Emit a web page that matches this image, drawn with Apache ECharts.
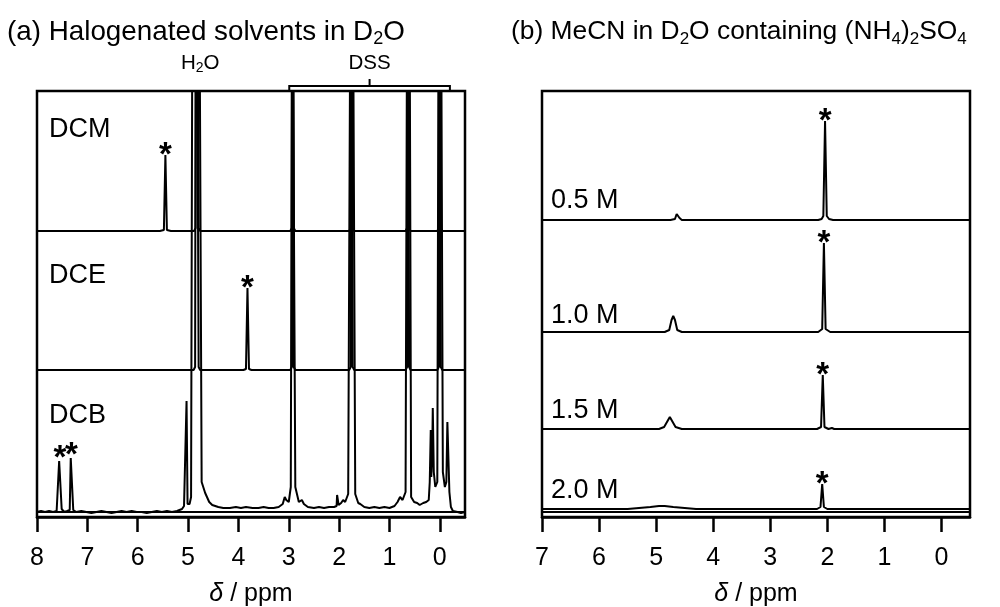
<!DOCTYPE html>
<html>
<head>
<meta charset="utf-8">
<script src="https://cdn.jsdelivr.net/npm/echarts@6/dist/echarts.min.js"></script>
<style>
html, body { margin: 0; padding: 0; background: #fff; }
#main { width: 1000px; height: 607px; }
</style>
</head>
<body>
<div id="main"></div>
<script>
// tick labels (ppm)
const ticksA = [8, 7, 6, 5, 4, 3, 2, 1, 0];
const ticksB = [7, 6, 5, 4, 3, 2, 1, 0];

// panel (a): halogenated solvents, [ppm, intensity above own baseline]
const namesA = ['DCM', 'DCE', 'DCB'];
const offsetsA = [286, 147, 5];
const dcm = [
  [8.00, 0], [5.56, 0], [5.48, 1], [5.45, 76], [5.42, 1], [5.34, 0],
  [4.88, 0], [4.85, 3], [4.83, 600], [4.81, 600], [4.79, 3], [4.76, 0],
  [2.97, 0], [2.94, 3], [2.93, 600], [2.91, 600], [2.90, 3], [2.87, 0],
  [1.80, 0], [1.77, 3], [1.76, 600], [1.74, 600], [1.73, 3], [1.70, 0],
  [0.68, 0], [0.65, 3], [0.64, 600], [0.62, 600], [0.61, 3], [0.58, 0],
  [0.05, 0], [0.02, 3], [0.01, 600], [-0.01, 600], [-0.02, 3], [-0.05, 0],
  [-0.50, 0]
];
const dce = [
  [8.00, 0], [4.89, 0], [4.86, 3], [4.84, 600], [4.82, 600], [4.79, 3], [4.76, 0],
  [3.90, 0], [3.85, 1], [3.82, 82], [3.79, 1], [3.74, 0],
  [2.97, 0], [2.94, 3], [2.93, 600], [2.91, 600], [2.90, 3], [2.87, 0],
  [1.80, 0], [1.77, 3], [1.76, 600], [1.74, 600], [1.73, 3], [1.70, 0],
  [0.68, 0], [0.65, 3], [0.64, 600], [0.62, 600], [0.61, 3], [0.58, 0],
  [0.05, 0], [0.02, 3], [0.01, 600], [-0.01, 600], [-0.02, 3], [-0.05, 0],
  [-0.50, 0]
];
const dcb = [
  [8.00, 0], [7.92, 1], [7.84, 0], [7.76, 1], [7.68, 0], [7.61, 1], [7.58, 3], [7.56, 51], [7.53, 51], [7.51, 3],
  [7.46, 0], [7.40, 1], [7.35, 2], [7.33, 54], [7.30, 54], [7.28, 2], [7.22, 0], [7.12, 1], [7.02, 0],
  [6.92, -1], [6.82, 0], [6.72, 1], [6.62, 0], [6.52, -1], [6.42, 0], [6.32, 1], [6.22, 0], [6.12, 1],
  [6.02, 0], [5.92, 0], [5.82, -1], [5.72, 0], [5.62, 1], [5.52, 0], [5.42, 1], [5.32, 0], [5.22, 1],
  [5.12, 3], [5.08, 6], [5.05, 8], [5.03, 111], [5.01, 8], [4.97, 8], [4.94, 15], [4.91, 600],
  [4.78, 600], [4.73, 30], [4.66, 19], [4.58, 10], [4.52, 7], [4.40, 5], [4.30, 4], [4.17, 4],
  [4.05, 5], [3.95, 4], [3.85, 5], [3.72, 4], [3.60, 4], [3.50, 5], [3.40, 4], [3.30, 4], [3.20, 5],
  [3.12, 8], [3.08, 15], [3.05, 12], [3.00, 10], [2.96, 25], [2.93, 600], [2.90, 600], [2.87, 25],
  [2.80, 10], [2.74, 12], [2.70, 8], [2.62, 5], [2.50, 4], [2.40, 5], [2.30, 4], [2.20, 5], [2.10, 5],
  [2.05, 6], [2.04, 17], [2.02, 17], [2.01, 7], [1.96, 9], [1.92, 12], [1.88, 10], [1.82, 18],
  [1.77, 600], [1.73, 600], [1.68, 18], [1.62, 9], [1.58, 8], [1.50, 5], [1.40, 4], [1.30, 5],
  [1.20, 4], [1.10, 5], [1.00, 4], [0.90, 6], [0.84, 10], [0.79, 15], [0.74, 12], [0.68, 20],
  [0.645, 600], [0.605, 600], [0.57, 15], [0.51, 10], [0.45, 9], [0.40, 7], [0.33, 9], [0.27, 10],
  [0.22, 12], [0.20, 30], [0.18, 82], [0.17, 35], [0.15, 60], [0.14, 104], [0.12, 40], [0.09, 25],
  [0.05, 30], [0.02, 600], [-0.02, 600], [-0.06, 40], [-0.10, 25], [-0.13, 30], [-0.15, 90],
  [-0.17, 90], [-0.19, 20], [-0.22, 5], [-0.26, 1], [-0.35, 0], [-0.42, -1], [-0.50, 0]
];
// starred solvent peaks: ppm, height above baseline, trace index
const starPpmA = [5.45, 3.82, 7.545, 7.315];
const starTopA = [76, 82, 54, 57];
const starTraceA = [0, 1, 2, 2];
const dssBracket = [2.99, -0.2];
const h2oPpm = 4.76;

// panel (b): MeCN in D2O with (NH4)2SO4
const namesB = ['0.5 M', '1.0 M', '1.5 M', '2.0 M'];
const offsetsB = [297, 185, 88, 8];
const m05 = [
  [7.00, 0], [4.75, 0], [4.67, 1], [4.64, 6], [4.62, 7], [4.59, 2], [4.55, 0],
  [2.86, 0], [2.83, 1], [2.80, 0], [2.16, 0], [2.10, 1], [2.07, 4], [2.04, 99], [2.01, 4],
  [1.97, 1], [1.90, 0], [1.76, 0], [1.73, 1], [1.70, 0], [0.62, 0], [0.59, 1], [0.56, 0],
  [0.03, 0], [0.01, 2], [-0.01, 0], [-0.50, 0]
];
const m10 = [
  [7.00, 0], [4.85, 0], [4.77, 2], [4.73, 12], [4.70, 16], [4.67, 12], [4.63, 2], [4.55, 0],
  [2.16, 0], [2.09, 3], [2.06, 89], [2.03, 3], [1.95, 0],
  [0.03, 0], [0.01, 2], [-0.01, 0], [-0.50, 0]
];
const m15 = [
  [7.00, 0], [4.95, 0], [4.86, 2], [4.80, 8], [4.76, 12], [4.72, 8], [4.66, 2], [4.55, 0],
  [2.18, 0], [2.11, 2], [2.08, 54], [2.05, 2], [1.98, 0], [1.92, 1], [1.88, 0],
  [0.03, 0], [0.01, 2], [-0.01, 0], [-0.50, 0]
];
const m20 = [
  [7.00, 0], [5.50, 0], [5.30, 1], [5.10, 2], [4.95, 3], [4.85, 3], [4.70, 2], [4.50, 1],
  [4.30, 0], [2.18, 0], [2.12, 2], [2.09, 25], [2.06, 2], [2.00, 0],
  [0.03, 0], [0.01, 1], [-0.01, 0], [-0.50, 0]
];
const starPpmB = [2.04, 2.06, 2.08, 2.09];
const starTopB = [99, 89, 54, 25];

const FONT = '"Liberation Sans", Arial, Helvetica, sans-serif';
const chart = echarts.init(document.getElementById('main'));

function traceSeries(points, offset, idx) {
  return {
    type: 'line', xAxisIndex: idx, yAxisIndex: idx,
    data: points.map(p => [p[0], p[1] + offset]),
    showSymbol: false, symbol: 'none', clip: true, silent: true,
    lineStyle: { color: '#000', width: 2 },
    animation: false, z: 3
  };
}

function frameLine(idx) {
  return {
    type: 'line', xAxisIndex: idx, yAxisIndex: idx, data: [], silent: true, animation: false,
    markLine: { silent: true, symbol: 'none', label: { show: false }, animation: false,
      lineStyle: { color: '#000', width: 2, type: 'solid' }, data: [{ yAxis: 5 }] }
  };
}

function xAxisFor(idx, min, max, ticks) {
  return {
    gridIndex: idx, type: 'value', inverse: true, min: min, max: max,
    axisLine: { show: true, onZero: false, lineStyle: { color: '#000', width: 2.5 } },
    axisTick: { show: true, inside: false, length: 15, customValues: ticks, lineStyle: { color: '#000', width: 2.5 } },
    axisLabel: { show: true, customValues: ticks, color: '#000', fontSize: 25, fontFamily: FONT, margin: 29 },
    splitLine: { show: false },
    name: '{i|δ} / ppm', nameLocation: 'middle', nameGap: 65,
    nameTextStyle: { color: '#000', fontSize: 25, fontFamily: FONT,
      rich: { i: { fontStyle: 'italic', fontSize: 25, fontFamily: FONT, color: '#000' } } }
  };
}

const series = [frameLine(0), frameLine(1)];
[dcm, dce, dcb].forEach((t, i) => series.push(traceSeries(t, offsetsA[i], 0)));
[m05, m10, m15, m20].forEach((t, i) => series.push(traceSeries(t, offsetsB[i], 1)));

chart.setOption({
  animation: false,
  backgroundColor: '#fff',
  grid: [
    { left: 37, right: 535, top: 91, bottom: 90, show: true, borderColor: '#000', borderWidth: 2.5, outerBoundsMode: 'none' },
    { left: 542, right: 30, top: 91, bottom: 90, show: true, borderColor: '#000', borderWidth: 2.5, outerBoundsMode: 'none' }
  ],
  xAxis: [xAxisFor(0, -0.5, 8, ticksA), xAxisFor(1, -0.5, 7, ticksB)],
  yAxis: [
    { gridIndex: 0, type: 'value', min: 0, max: 426, show: false },
    { gridIndex: 1, type: 'value', min: 0, max: 426, show: false }
  ],
  series: series
});

// annotations
function richTitle(size) {
  return {
    n: { fontSize: size, lineHeight: 32, fontFamily: FONT, color: '#000' },
    s: { fontSize: Math.round(size * 0.66), lineHeight: 16, verticalAlign: 'bottom', fontFamily: FONT, color: '#000' }
  };
}
const richSmall = {
  n: { fontSize: 20.5, lineHeight: 24, fontFamily: FONT, color: '#000' },
  s: { fontSize: 14, lineHeight: 13, verticalAlign: 'bottom', fontFamily: FONT, color: '#000' }
};
const px = v => chart.convertToPixel({ xAxisIndex: 0 }, v);
const bx0 = px(dssBracket[0]), bx1 = px(dssBracket[1]), bxm = (bx0 + bx1) / 2;

const labelYA = [130, 276, 416];
const labelYB = [201, 316, 411, 491];
const graphics = [
  { type: 'text', x: 7, y: 16, style: { text: '{n|(a) Halogenated solvents in D}{s|2}{n|O}', rich: richTitle(27.8), verticalAlign: 'top', fill: '#000' } },
  { type: 'text', x: 511, y: 16, style: { text: '{n|(b) MeCN in D}{s|2}{n|O containing (NH}{s|4}{n|)}{s|2}{n|SO}{s|4}', rich: richTitle(26.4), verticalAlign: 'top', fill: '#000' } },
  { type: 'text', x: px(h2oPpm), y: 51, style: { text: '{n|H}{s|2}{n|O}', rich: richSmall, align: 'center', verticalAlign: 'top', fill: '#000' } },
  { type: 'text', x: bxm, y: 51, style: { text: '{n|DSS}', rich: richSmall, align: 'center', verticalAlign: 'top', fill: '#000' } },
  { type: 'polyline', shape: { points: [[bx0, 91], [bx0, 86], [bx1, 86], [bx1, 91]] }, style: { stroke: '#000', lineWidth: 2, fill: null } },
  { type: 'line', shape: { x1: bxm, y1: 86, x2: bxm, y2: 79 }, style: { stroke: '#000', lineWidth: 2 } }
];
namesA.forEach((n, i) => graphics.push({ type: 'text', x: 49, y: labelYA[i], style: { text: n, fontSize: 27, fontFamily: FONT, fill: '#000', verticalAlign: 'middle' } }));
namesB.forEach((n, i) => graphics.push({ type: 'text', x: 551, y: labelYB[i], style: { text: n, fontSize: 27, fontFamily: FONT, fill: '#000', verticalAlign: 'middle' } }));

// asterisks over the solvent peaks, placed through the axes
function addStar(gridIndex, ppm, y) {
  const p = chart.convertToPixel({ gridIndex: gridIndex }, [ppm, y]);
  graphics.push({ type: 'text', x: p[0], y: p[1] + 1, z: 10,
    style: { text: '*', fontSize: 33, fontWeight: 'bold', fontFamily: FONT, fill: '#000', align: 'center', verticalAlign: 'middle' } });
}
starPpmA.forEach((x, i) => addStar(0, x, starTopA[i] + offsetsA[starTraceA[i]]));
starPpmB.forEach((x, i) => addStar(1, x, starTopB[i] + offsetsB[i]));

chart.setOption({ graphic: graphics });
</script>
</body>
</html>
